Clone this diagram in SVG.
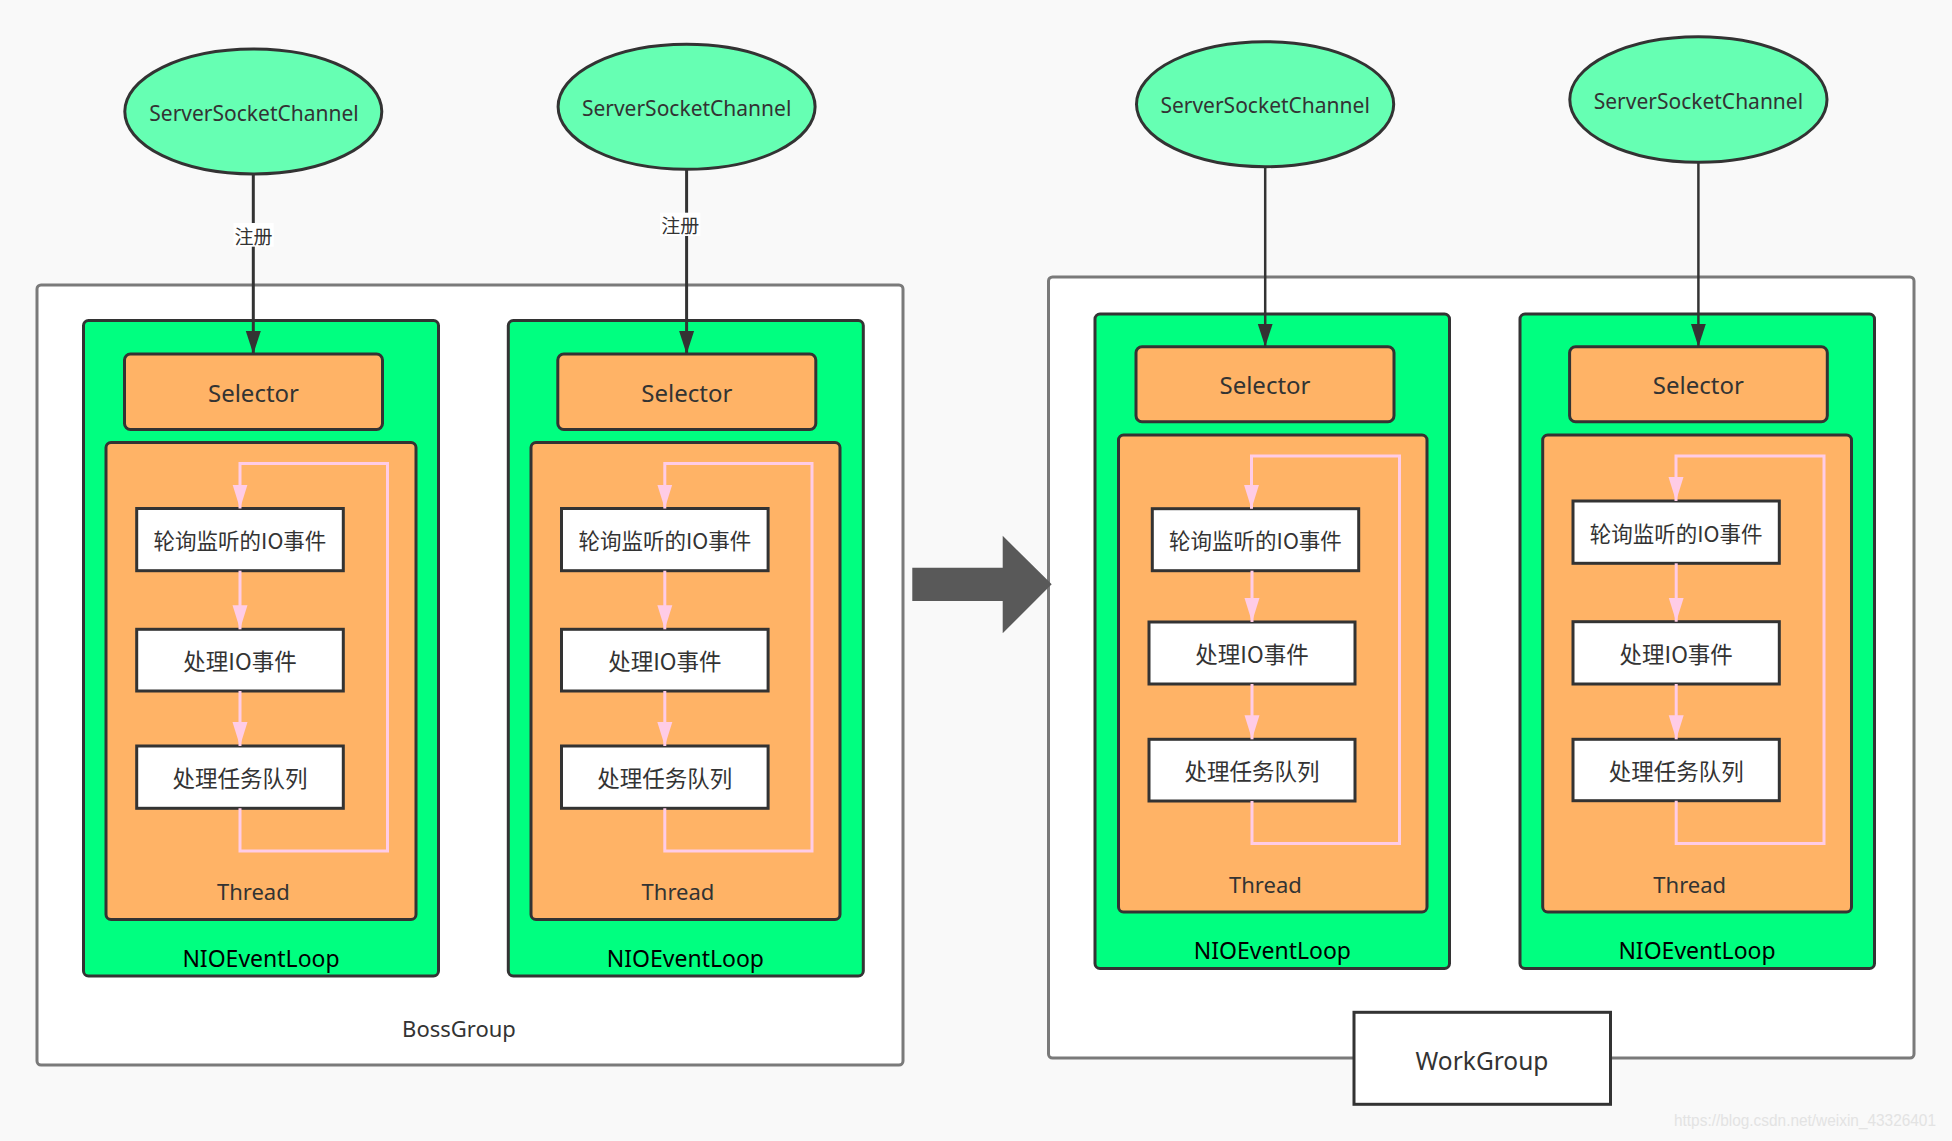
<svg xmlns="http://www.w3.org/2000/svg" width="1952" height="1141" viewBox="0 0 1952 1141">
<defs>
<style>
.bg{fill:#f9f9f9}
.group{fill:#ffffff;stroke:#7a7a7a;stroke-width:3}
.loop{fill:#00ff80;stroke:#333;stroke-width:3}
.sel{fill:#ffb366;stroke:#333;stroke-width:3}
.thr{fill:#ffb366;stroke:#333;stroke-width:3}
.step{fill:#ffffff;stroke:#333;stroke-width:3}
.ch{fill:#66ffb3;stroke:#333;stroke-width:3}
.lat{font-family:"Noto Sans","Open Sans","Liberation Sans",sans-serif;fill:#333;text-anchor:middle}
.cjk{font-family:"Noto Sans CJK SC","Noto Sans",sans-serif;fill:#333;text-anchor:middle;dominant-baseline:central}
.conn{stroke:#333;fill:none}
.pink{stroke:#ffcce6;stroke-width:3;fill:none}
</style>
<marker id="ah" markerUnits="userSpaceOnUse" markerWidth="24" markerHeight="16" refX="23" refY="8" orient="auto">
<path d="M0,0.5 L23,8 L0,15.5 Z" fill="#333"/>
</marker>
<marker id="ph" markerUnits="userSpaceOnUse" markerWidth="25" markerHeight="16" refX="24" refY="8" orient="auto">
<path d="M0,0.5 L24,8 L0,15.5 Z" fill="#ffcce6"/>
</marker>
</defs>
<rect class="bg" x="0" y="0" width="1952" height="1141"/>

<g id="bossGroup">
<rect class="group" x="37" y="285" width="866" height="780" rx="4"/>
<text class="lat" x="459" y="1037" font-size="22">BossGroup</text>
</g>
<g id="workGroup">
<rect class="group" x="1048.5" y="277" width="865.5" height="781" rx="4"/>
<rect class="step" x="1354" y="1012.3" width="256.5" height="92"/>
<text class="lat" x="1482" y="1070" font-size="24.5">WorkGroup</text>
</g>

<g id="bigArrow">
<polygon points="912.3,567.7 1002.7,567.7 1002.7,535.7 1051.7,584.3 1002.7,633.3 1002.7,601 912.3,601" fill="#595959"/>
</g>

<!-- Column 1 -->
<g id="loop1">
<rect class="loop" x="83.5" y="320.5" width="355" height="655.5" rx="5"/>
<text class="lat" x="261" y="966.7" font-size="23" style="fill:#000">NIOEventLoop</text>
</g>
<g id="selector1">
<rect class="sel" x="124.5" y="354" width="258" height="75.5" rx="6"/>
<text class="lat" x="253.5" y="401.7" font-size="24">Selector</text>
</g>
<g id="thread1">
<rect class="thr" x="106" y="442.5" width="310" height="477" rx="5"/>
<text class="lat" x="253.3" y="900" font-size="22">Thread</text>
</g>
<g id="poll1"><rect class="step" x="136.7" y="508.5" width="206.6" height="62.2"/><text class="cjk" x="240" y="539.6" font-size="21.5">轮询监听的IO事件</text></g>
<g id="io1"><rect class="step" x="136.7" y="629.3" width="206.6" height="61.7"/><text class="cjk" x="240" y="660.2" font-size="22.5">处理IO事件</text></g>
<g id="task1"><rect class="step" x="136.7" y="746" width="206.6" height="62.3"/><text class="cjk" x="240" y="777.2" font-size="22.5">处理任务队列</text></g>
<g id="channel1"><ellipse class="ch" cx="253.3" cy="111.5" rx="128.5" ry="62.5"/><text class="lat" x="254" y="120.7" font-size="21">ServerSocketChannel</text></g>

<!-- Column 2 -->
<g id="loop2">
<rect class="loop" x="508.3" y="320.5" width="355" height="655.5" rx="5"/>
<text class="lat" x="685.4" y="966.7" font-size="23" style="fill:#000">NIOEventLoop</text>
</g>
<g id="selector2">
<rect class="sel" x="557.8" y="354" width="258" height="75.5" rx="6"/>
<text class="lat" x="686.8" y="401.7" font-size="24">Selector</text>
</g>
<g id="thread2">
<rect class="thr" x="531" y="442.5" width="309" height="477" rx="5"/>
<text class="lat" x="678" y="900" font-size="22">Thread</text>
</g>
<g id="poll2"><rect class="step" x="561.5" y="508.5" width="206.6" height="62.2"/><text class="cjk" x="664.8" y="539.6" font-size="21.5">轮询监听的IO事件</text></g>
<g id="io2"><rect class="step" x="561.5" y="629.3" width="206.6" height="61.7"/><text class="cjk" x="664.8" y="660.2" font-size="22.5">处理IO事件</text></g>
<g id="task2"><rect class="step" x="561.5" y="746" width="206.6" height="62.3"/><text class="cjk" x="664.8" y="777.2" font-size="22.5">处理任务队列</text></g>
<g id="channel2"><ellipse class="ch" cx="686.6" cy="106.8" rx="128.5" ry="62.5"/><text class="lat" x="686.6" y="116" font-size="21">ServerSocketChannel</text></g>

<!-- Column 3 -->
<g id="loop3">
<rect class="loop" x="1095" y="314" width="354.5" height="654.5" rx="5"/>
<text class="lat" x="1272.4" y="959" font-size="23" style="fill:#000">NIOEventLoop</text>
</g>
<g id="selector3">
<rect class="sel" x="1136" y="346.7" width="258" height="75" rx="6"/>
<text class="lat" x="1265" y="394" font-size="24">Selector</text>
</g>
<g id="thread3">
<rect class="thr" x="1118.5" y="435" width="308.5" height="477" rx="5"/>
<text class="lat" x="1265.4" y="892.5" font-size="22">Thread</text>
</g>
<g id="poll3"><rect class="step" x="1152.3" y="508.7" width="206.4" height="62"/><text class="cjk" x="1255.5" y="539.7" font-size="21.5">轮询监听的IO事件</text></g>
<g id="io3"><rect class="step" x="1149" y="622" width="206" height="62"/><text class="cjk" x="1252" y="653" font-size="22.5">处理IO事件</text></g>
<g id="task3"><rect class="step" x="1149" y="739.3" width="206" height="61.7"/><text class="cjk" x="1252" y="770.2" font-size="22.5">处理任务队列</text></g>
<g id="channel3"><ellipse class="ch" cx="1265.1" cy="104.2" rx="128.6" ry="62.5"/><text class="lat" x="1265.1" y="112.7" font-size="21">ServerSocketChannel</text></g>

<!-- Column 4 -->
<g id="loop4">
<rect class="loop" x="1520" y="314" width="354.5" height="654.5" rx="5"/>
<text class="lat" x="1697" y="959" font-size="23" style="fill:#000">NIOEventLoop</text>
</g>
<g id="selector4">
<rect class="sel" x="1569.6" y="346.7" width="257.7" height="75" rx="6"/>
<text class="lat" x="1698.4" y="394" font-size="24">Selector</text>
</g>
<g id="thread4">
<rect class="thr" x="1542.7" y="435" width="308.8" height="477" rx="5"/>
<text class="lat" x="1689.7" y="892.5" font-size="22">Thread</text>
</g>
<g id="poll4"><rect class="step" x="1573" y="501" width="206.3" height="62.3"/><text class="cjk" x="1676.2" y="532.1" font-size="21.5">轮询监听的IO事件</text></g>
<g id="io4"><rect class="step" x="1573" y="621.7" width="206.3" height="62.3"/><text class="cjk" x="1676.2" y="652.8" font-size="22.5">处理IO事件</text></g>
<g id="task4"><rect class="step" x="1573" y="739.3" width="206.3" height="61.4"/><text class="cjk" x="1676.2" y="770" font-size="22.5">处理任务队列</text></g>
<g id="channel4"><ellipse class="ch" cx="1698.4" cy="99.5" rx="128.6" ry="62.8"/><text class="lat" x="1698.4" y="109" font-size="21">ServerSocketChannel</text></g>

<g id="connectors">
<line class="conn" stroke-width="3" x1="253.3" y1="174" x2="253.3" y2="354" marker-end="url(#ah)"/>
<line class="conn" stroke-width="3" x1="686.6" y1="169.3" x2="686.6" y2="354" marker-end="url(#ah)"/>
<line class="conn" stroke-width="2.5" x1="1265.2" y1="166.7" x2="1265.2" y2="346.7" marker-end="url(#ah)"/>
<line class="conn" stroke-width="2.5" x1="1698.4" y1="162.3" x2="1698.4" y2="346.7" marker-end="url(#ah)"/>
<g id="regLabel1"><rect x="233.5" y="223" width="40.2" height="23.7" fill="#ffffff"/><text class="cjk" x="253.6" y="235" font-size="19">注册</text></g>
<g id="regLabel2"><rect x="660" y="212.7" width="40.3" height="23.3" fill="#ffffff"/><text class="cjk" x="680.2" y="224.5" font-size="19">注册</text></g>

<path class="pink" d="M240,570.7 V629.3" marker-end="url(#ph)"/>
<path class="pink" d="M240,691 V746" marker-end="url(#ph)"/>
<path class="pink" d="M240,808.3 V851 H387.5 V463.5 H240 V508.5" marker-end="url(#ph)"/>

<path class="pink" d="M664.8,570.7 V629.3" marker-end="url(#ph)"/>
<path class="pink" d="M664.8,691 V746" marker-end="url(#ph)"/>
<path class="pink" d="M664.8,808.3 V851 H812 V463.5 H664.8 V508.5" marker-end="url(#ph)"/>

<path class="pink" d="M1252,570.7 V622" marker-end="url(#ph)"/>
<path class="pink" d="M1252,684 V739.3" marker-end="url(#ph)"/>
<path class="pink" d="M1252,801 V843.6 H1399.5 V456 H1251.5 V508.7" marker-end="url(#ph)"/>

<path class="pink" d="M1676.2,563.3 V621.7" marker-end="url(#ph)"/>
<path class="pink" d="M1676.2,684 V739.3" marker-end="url(#ph)"/>
<path class="pink" d="M1676.2,800.7 V843.6 H1824 V456 H1676 V501" marker-end="url(#ph)"/>
</g>

<text x="1936" y="1126" text-anchor="end" font-size="16" textLength="262" lengthAdjust="spacingAndGlyphs" font-family="Liberation Sans, Arial, sans-serif" fill="#e3e3e3">https://blog.csdn.net/weixin_43326401</text>
</svg>
